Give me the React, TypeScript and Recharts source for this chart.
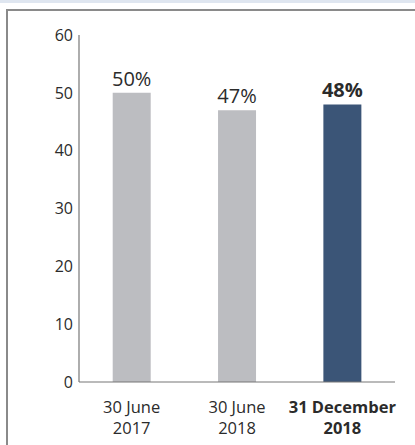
import React from "react";
import { BarChart, Bar, XAxis, YAxis, Cell, LabelList } from "recharts";

const categories = ["30 June 2017", "30 June 2018", "31 December 2018"];
const tickLine1 = ["30 June", "30 June", "31 December"];
const tickLine2 = ["2017", "2018", "2018"];
const values = [50, 47, 48];
const highlight = [false, false, true];
const yTicks = [0, 10, 20, 30, 40, 50, 60];

const data = categories.map((c, i) => ({ name: c, value: values[i], idx: i }));

const FONT = "'Open Sans', 'DejaVu Sans', sans-serif";

const XTick = (props: any) => {
  const { x, y, payload } = props;
  const i = payload.index;
  const bold = highlight[i];
  const common = {
    textAnchor: "middle" as const,
    fill: "#2b2b2b",
    fontFamily: FONT,
    fontSize: 16.5,
    fontWeight: bold ? 700 : 400,
  };
  return (
    <g>
      <text x={x} y={y + 23} {...common}>{tickLine1[i]}</text>
      <text x={x} y={y + 44} {...common}>{tickLine2[i]}</text>
    </g>
  );
};

const ValueLabel = (props: any) => {
  const { x, y, width, value, index } = props;
  const bold = highlight[index];
  return (
    <text
      x={x + width / 2}
      y={y - 7}
      textAnchor="middle"
      fill="#2b2b2b"
      fontFamily={FONT}
      fontSize={20}
      fontWeight={bold ? 700 : 400}
    >
      {value}%
    </text>
  );
};

export default function App() {
  return (
    <div style={{ position: "fixed", left: 0, top: 0, width: 415, height: 445, background: "#fff", overflow: "hidden" }}>
      <div style={{ position: "absolute", left: 0, top: 0, width: 415, height: 3, background: "#dfe6f0" }} />
      <div
        style={{
          position: "absolute",
          left: 6,
          top: 9,
          width: 420,
          height: 450,
          borderLeft: "2px solid #8a8a8a",
          borderTop: "2px solid #8a8a8a",
        }}
      />
      <div style={{ position: "absolute", left: 0, top: 0 }}>
        <BarChart
          width={415}
          height={445}
          data={data}
          margin={{ top: 35, right: 20, bottom: 0, left: 0 }}
          barCategoryGap="32%"
        >
          <XAxis
            dataKey="name"
            axisLine={{ stroke: "#777", strokeWidth: 1.2 }}
            tickLine={false}
            tick={<XTick />}
            height={63}
            interval={0}
          />
          <YAxis
            domain={[0, 60]}
            ticks={yTicks}
            width={79}
            axisLine={{ stroke: "#777", strokeWidth: 1.2 }}
            tickLine={false}
            tickSize={6}
            tickMargin={0}
            tick={{ fill: "#2b2b2b", fontFamily: FONT, fontSize: 16 }}
          />
          <Bar dataKey="value" isAnimationActive={false}>
            {data.map((d, i) => (
              <Cell key={i} fill={highlight[i] ? "#3b5577" : "#bcbdc1"} />
            ))}
            <LabelList dataKey="value" content={<ValueLabel />} />
          </Bar>
        </BarChart>
      </div>
    </div>
  );
}
